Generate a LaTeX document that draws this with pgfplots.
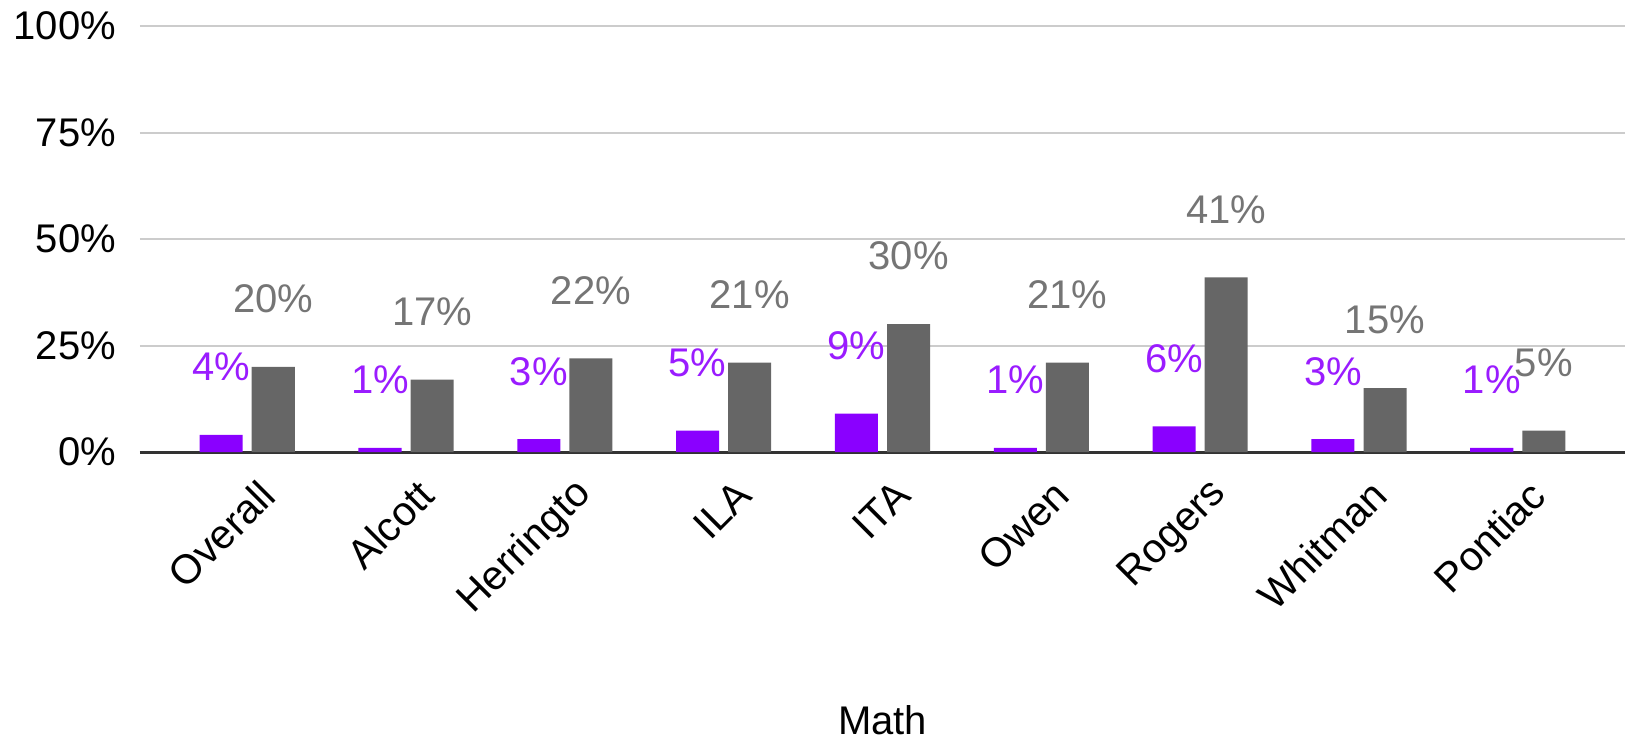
\documentclass[border=0pt]{standalone}
\usepackage{pgfplots}
\pgfplotsset{compat=1.18}
\usepackage{fontspec}
\setmainfont{Liberation Sans}

\definecolor{barpurple}{HTML}{8A00FF}
\definecolor{labpurple}{HTML}{9A1CFF}
\definecolor{bargray}{HTML}{666666}
\definecolor{labgray}{HTML}{757575}
\definecolor{gridgray}{HTML}{CCCCCC}
\definecolor{zeroline}{HTML}{333333}

\newcommand{\labfont}{\fontsize{20}{24}\selectfont}

\begin{document}
\begin{tikzpicture}
\begin{axis}[
    at={(0,0)}, anchor=south west,
    scale only axis,
    width=742.5pt, height=213pt,
    clip=false,
    ybar, bar width=0.271,
    xmin=-0.675, xmax=8.675,
    ymin=0, ymax=100,
    ytick={0,25,50,75,100},
    yticklabel={\pgfmathprintnumber{\tick}\%},
    /pgf/number format/assume math mode=true,
    xtick={0,...,8},
    xticklabels={Overall,Alcott,Herringto,ILA,ITA,Owen,Rogers,Whitman,Pontiac},
    % shifts first, so they act in the unrotated frame
    xticklabel style={xshift=12.6pt, yshift=-15.6pt, rotate=45, anchor=east,
        font=\fontsize{20.5}{24}\selectfont},
    yticklabel style={font=\labfont, xshift=-8.5pt},
    major tick length=0pt,
    axis x line*=bottom, axis y line*=left,
    x axis line style={-, draw=zeroline, line width=1.5pt},
    y axis line style={draw=none},
    ymajorgrids=true,
    grid style={gridgray, line width=1pt},
    xlabel={Math},
    xlabel style={at={(axis description cs:0.5,0)}, anchor=center, inner sep=0pt, yshift=-134pt, font=\labfont},
    nodes near coords={\pgfmathprintnumber{\pgfplotspointmeta}\%},
]
\addplot[fill=barpurple, draw=none, bar shift=-0.164,
    nodes near coords style={font=\labfont, text=labpurple, anchor=center, yshift=34pt}]
    coordinates {
    (0,4) (1,1) (2,3) (3,5) (4,9) (5,1) (6,6) (7,3) (8,1)
    };
\addplot[fill=bargray, draw=none, bar shift=0.164,
    nodes near coords style={font=\labfont, text=labgray, anchor=center, yshift=34pt}]
    coordinates {
    (0,20) (1,17) (2,22) (3,21) (4,30) (5,21) (6,41) (7,15) (8,5)
    };
\end{axis}
\pgfresetboundingbox
\path[use as bounding box] (-70pt,-144.5pt) rectangle (746.5pt,226pt);
\end{tikzpicture}
\end{document}
